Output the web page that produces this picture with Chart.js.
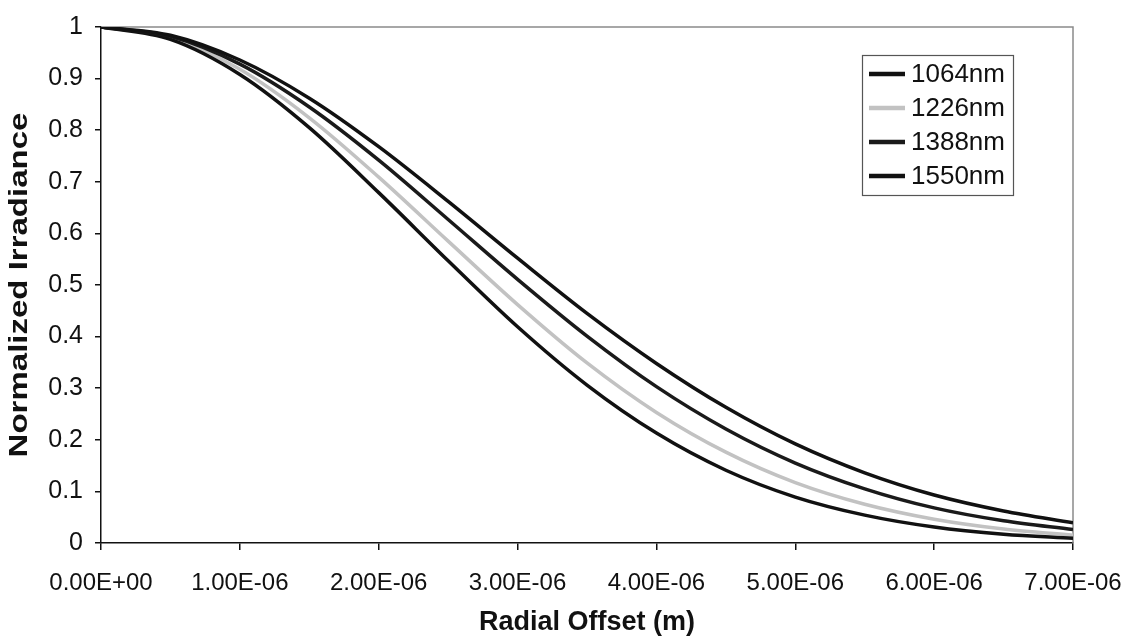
<!DOCTYPE html>
<html>
<head>
<meta charset="utf-8">
<script src="https://cdn.jsdelivr.net/npm/chart.js@4.4.1/dist/chart.umd.min.js"></script>
<style>
  html, body { margin: 0; padding: 0; background: #ffffff; }
  #wrap { width: 1141px; height: 639px; position: relative; }
</style>
</head>
<body>
<div id="wrap"><canvas id="chart"></canvas></div>
<script>
// Radial offset from the beam axis (m)
const radialOffset = [0, 0.5e-6, 1.0e-6, 1.5e-6, 2.0e-6, 2.5e-6, 3.0e-6, 3.5e-6,
                      4.0e-6, 4.5e-6, 5.0e-6, 5.5e-6, 6.0e-6, 6.5e-6, 7.0e-6];

// Normalized irradiance profiles per wavelength
const irr1064 = [1, 0.976, 0.908, 0.805, 0.679, 0.547, 0.419, 0.306, 0.213, 0.141, 0.089, 0.054, 0.031, 0.017, 0.009];
const irr1226 = [1, 0.979, 0.918, 0.824, 0.709, 0.585, 0.462, 0.349, 0.253, 0.176, 0.117, 0.075, 0.046, 0.027, 0.015];
const irr1388 = [1, 0.982, 0.928, 0.845, 0.742, 0.627, 0.511, 0.401, 0.303, 0.221, 0.155, 0.105, 0.068, 0.043, 0.026];
const irr1550 = [1, 0.984, 0.936, 0.862, 0.768, 0.662, 0.552, 0.445, 0.348, 0.263, 0.192, 0.136, 0.093, 0.062, 0.039];

const seriesLabels = ['1064nm', '1226nm', '1388nm', '1550nm'];
const seriesValues = [irr1064, irr1226, irr1388, irr1550];
const seriesColors = ['#111111', '#c2c2c2', '#1a1a1a', '#111111'];

const xTickStep = 1e-6;
const yTickStep = 0.1;
const yAxisTitle = 'Normalized Irradiance';

const FONT = "'Liberation Sans', Arial, sans-serif";

function sciLabel(v) {
  const [mant, exp] = Number(v).toExponential(2).split('e');
  const n = parseInt(exp, 10);
  const sign = n < 0 ? '-' : '+';
  return mant + 'E' + sign + String(Math.abs(n)).padStart(2, '0');
}

// Box around the plot: light top/right edges
const framePlugin = {
  id: 'frame',
  beforeDatasetsDraw(chart) {
    const { ctx, chartArea: a } = chart;
    ctx.save();
    ctx.strokeStyle = '#8a8a8a';
    ctx.lineWidth = 1.5;
    ctx.beginPath();
    ctx.moveTo(a.left, a.top);
    ctx.lineTo(a.right, a.top);
    ctx.lineTo(a.right, a.bottom);
    ctx.stroke();
    ctx.restore();
  }
};

// Vertical axis title, drawn slightly elongated along its reading direction
const yTitlePlugin = {
  id: 'yTitle',
  afterDraw(chart, args, opts) {
    const { ctx, chartArea: a } = chart;
    ctx.save();
    ctx.translate(opts.x, (a.top + a.bottom) / 2);
    ctx.rotate(-Math.PI / 2);
    ctx.scale(opts.stretch, 1);
    ctx.font = 'bold ' + opts.fontSize + 'px ' + FONT;
    ctx.fillStyle = '#111111';
    ctx.textAlign = 'center';
    ctx.textBaseline = 'middle';
    ctx.fillText(opts.text, 0, 0);
    ctx.restore();
  }
};

// Boxed legend drawn inside the plot area
const boxLegendPlugin = {
  id: 'boxLegend',
  afterDraw(chart, args, opts) {
    const { ctx } = chart;
    const ds = chart.data.datasets;
    const x = opts.x, y = opts.y, w = opts.width, rowH = opts.rowHeight;
    const h = rowH * ds.length + opts.pad * 2;
    ctx.save();
    ctx.fillStyle = '#ffffff';
    ctx.fillRect(x, y, w, h);
    ctx.strokeStyle = '#555555';
    ctx.lineWidth = 1.2;
    ctx.strokeRect(x + 0.5, y + 0.5, w, h);
    ctx.font = opts.fontSize + 'px ' + FONT;
    ctx.textBaseline = 'middle';
    ctx.textAlign = 'left';
    ds.forEach((d, i) => {
      const cy = y + opts.pad + rowH * i + rowH / 2;
      ctx.strokeStyle = d.borderColor;
      ctx.lineWidth = 4.5;
      ctx.lineCap = 'butt';
      ctx.beginPath();
      ctx.moveTo(x + opts.lineStart, cy);
      ctx.lineTo(x + opts.lineStart + opts.lineLen, cy);
      ctx.stroke();
      ctx.fillStyle = '#111111';
      ctx.fillText(d.label, x + opts.lineStart + opts.lineLen + opts.gap, cy + 1);
    });
    ctx.restore();
  }
};

const datasets = seriesLabels.map((label, i) => ({
  label: label,
  data: radialOffset.map((x, j) => ({ x: x, y: seriesValues[i][j] })),
  borderColor: seriesColors[i],
  backgroundColor: seriesColors[i],
  borderWidth: 3.5,
  pointRadius: 0,
  cubicInterpolationMode: 'monotone',
  fill: false,
  order: i === 1 ? 5 : 4 - i
}));

new Chart(document.getElementById('chart'), {
  type: 'line',
  data: { datasets: datasets },
  options: {
    responsive: true,
    maintainAspectRatio: false,
    animation: false,
    layout: { padding: { top: 18, right: 68, bottom: 0, left: 0 } },
    plugins: {
      legend: { display: false },
      tooltip: { enabled: false },
      yTitle: { text: yAxisTitle, x: 20, fontSize: 25, stretch: 1.32 },
      boxLegend: { x: 862, y: 55, width: 151, rowHeight: 34, pad: 2, lineStart: 7, lineLen: 36, gap: 6, fontSize: 26 }
    },
    scales: {
      x: {
        type: 'linear',
        min: 0,
        max: 7e-6,
        afterFit(scale) { scale.height = 96; },
        ticks: {
          stepSize: xTickStep,
          autoSkip: false,
          maxRotation: 0,
          color: '#111111',
          padding: 19,
          font: { family: FONT, size: 24 },
          callback: (v) => sciLabel(v)
        },
        grid: { drawOnChartArea: false, drawTicks: true, tickLength: 7, color: '#111111', lineWidth: 1.5 },
        border: { display: true, color: '#111111', width: 1.5 },
        title: {
          display: true,
          text: 'Radial Offset (m)',
          color: '#111111',
          font: { family: FONT, size: 27, weight: 'bold' },
          padding: { top: 0, bottom: 0 }
        }
      },
      y: {
        type: 'linear',
        min: 0,
        max: 1,
        afterFit(scale) { scale.width = 101; },
        ticks: {
          stepSize: yTickStep,
          color: '#111111',
          padding: 12,
          font: { family: FONT, size: 25 },
          callback: (v) => String(+v.toFixed(1))
        },
        grid: { drawOnChartArea: false, drawTicks: true, tickLength: 6, color: '#111111', lineWidth: 1.5 },
        border: { display: true, color: '#111111', width: 1.5 },
        title: { display: false }
      }
    }
  },
  plugins: [framePlugin, yTitlePlugin, boxLegendPlugin]
});
</script>
</body>
</html>
